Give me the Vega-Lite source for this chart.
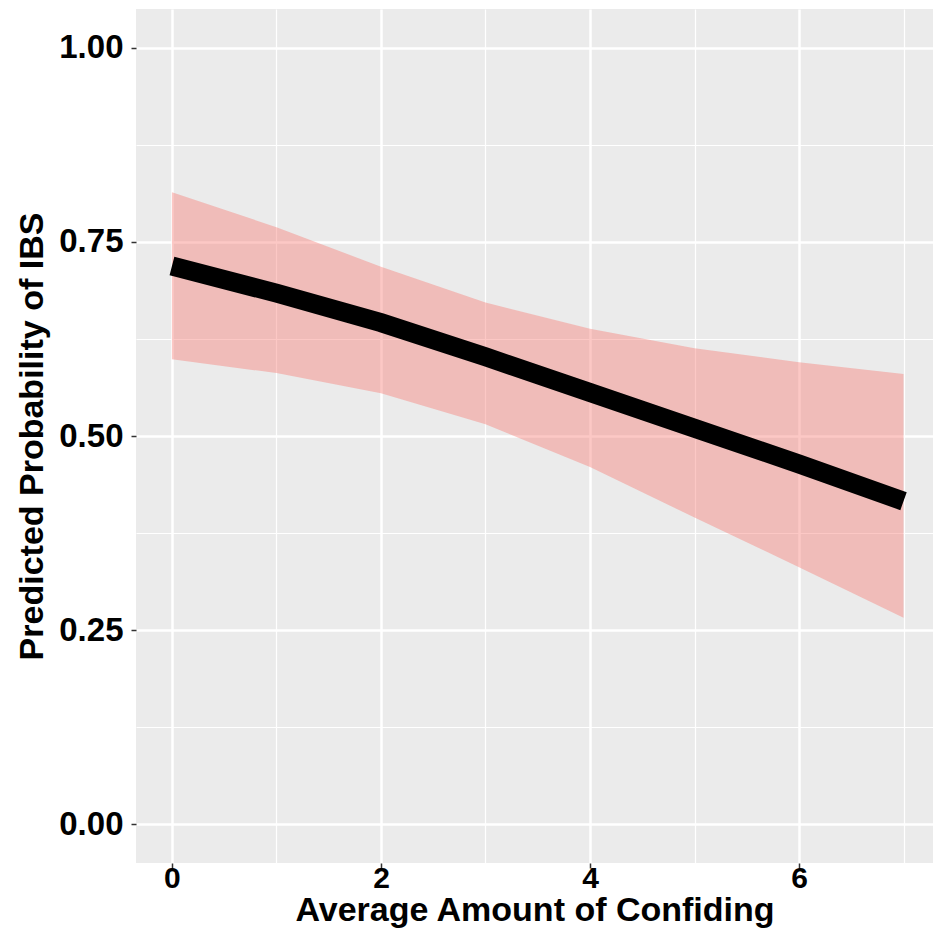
{
  "$schema": "https://vega.github.io/schema/vega-lite/v6.json",
  "width": 797,
  "height": 854,
  "autosize": {"type": "none"},
  "padding": {"left": 136, "top": 9, "right": 0, "bottom": 68},
  "background": "white",
  "config": {
    "view": {"fill": "#EBEBEB", "stroke": null},
    "font": "Liberation Sans",
    "axis": {
      "domain": false,
      "gridColor": "white",
      "gridWidth": 2.5,
      "tickColor": "#333333",
      "tickSize": 5,
      "tickWidth": 1.5,
      "labelFont": "Liberation Sans",
      "labelFontWeight": "bold",
      "labelColor": "black",
      "titleFont": "Liberation Sans",
      "titleFontWeight": "bold",
      "titleColor": "black",
      "titleFontSize": 34
    }
  },
  "data": {
    "values": [
      {"x": 0, "fit": 0.719, "lower": 0.599, "upper": 0.814},
      {"x": 1, "fit": 0.684, "lower": 0.581, "upper": 0.769},
      {"x": 2, "fit": 0.646, "lower": 0.555, "upper": 0.718},
      {"x": 3, "fit": 0.602, "lower": 0.515, "upper": 0.672},
      {"x": 4, "fit": 0.556, "lower": 0.460, "upper": 0.638},
      {"x": 5, "fit": 0.510, "lower": 0.395, "upper": 0.613},
      {"x": 6, "fit": 0.464, "lower": 0.331, "upper": 0.595},
      {"x": 7, "fit": 0.416, "lower": 0.266, "upper": 0.580}
    ]
  },
  "layer": [
    {
      "mark": {"type": "rule", "opacity": 0},
      "encoding": {
        "x": {
          "field": "x", "type": "quantitative",
          "scale": {"domain": [-0.344, 7.282], "nice": false, "zero": false},
          "axis": {"orient": "bottom", "values": [1, 3, 5, 7], "labels": false, "ticks": false, "title": null, "grid": true, "gridWidth": 1.2}
        },
        "y": {
          "field": "fit", "type": "quantitative",
          "scale": {"domain": [-0.05, 1.05], "nice": false, "zero": false},
          "axis": {"orient": "left", "values": [0.125, 0.375, 0.625, 0.875], "labels": false, "ticks": false, "title": null, "grid": true, "gridWidth": 1.2}
        }
      }
    },
    {
      "mark": {"type": "area", "color": "#F8766D", "opacity": 0.4},
      "encoding": {
        "x": {
          "field": "x", "type": "quantitative",
          "axis": {"orient": "bottom", "values": [0, 2, 4, 6], "grid": true, "title": "Average Amount of Confiding", "labelFontSize": 30, "labelPadding": -5, "titlePadding": 0}
        },
        "y": {
          "field": "lower", "type": "quantitative",
          "axis": {"orient": "left", "values": [0, 0.25, 0.5, 0.75, 1], "grid": true, "format": ".2f", "title": "Predicted Probability of IBS", "labelFontSize": 33, "labelPadding": 8, "titlePadding": 9}
        },
        "y2": {"field": "upper"}
      }
    },
    {
      "mark": {"type": "line", "color": "black", "strokeWidth": 19, "strokeCap": "butt"},
      "encoding": {
        "x": {"field": "x", "type": "quantitative", "axis": null},
        "y": {"field": "fit", "type": "quantitative", "axis": null}
      }
    }
  ],
  "resolve": {"axis": {"x": "independent", "y": "independent"}}
}
